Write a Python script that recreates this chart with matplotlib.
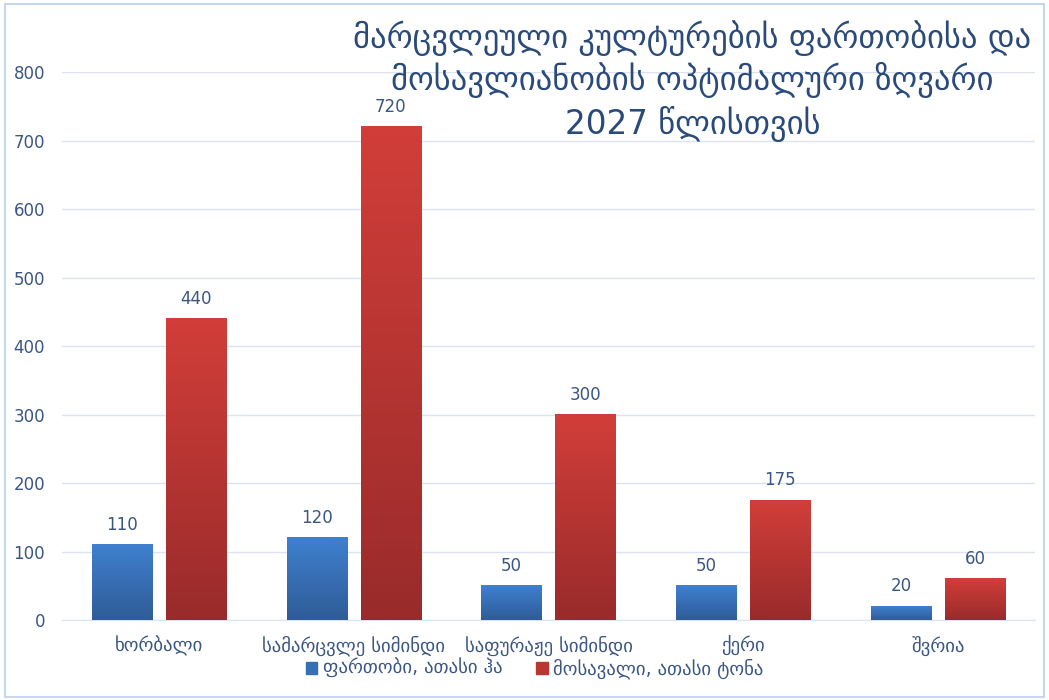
import matplotlib.pyplot as plt
import numpy as np
from matplotlib.colors import LinearSegmentedColormap
from matplotlib.patches import Rectangle, Patch

categories = ["ხორბალი", "სამარცვლე სიმინდი", "საფურაჟე სიმინდი", "ქერი", "შვრია"]
area = [110, 120, 50, 50, 20]
harvest = [440, 720, 300, 175, 60]
series_names = ["ფართობი, ათასი ჰა", "მოსავალი, ათასი ტონა"]
title_lines = ["მარცვლეული კულტურების ფართობისა და",
               "მოსავლიანობის ოპტიმალური ზღვარი",
               "2027 წლისთვის"]

TXT = '#3A5683'
TITLE_C = '#2A4A7A'
blue_cm = LinearSegmentedColormap.from_list('b', ['#2F5C97', '#3F80CF'])
red_cm = LinearSegmentedColormap.from_list('r', ['#992B2B', '#D23E39'])


def gradient_bars(ax, xs, vals, width, cmap):
    bars = ax.bar(xs, vals, width=width, color=cmap(0.6), zorder=2)
    grad = np.linspace(0, 1, 256).reshape(-1, 1)
    for b in bars:
        x0, w, h = b.get_x(), b.get_width(), b.get_height()
        ax.imshow(grad, extent=[x0, x0 + w, 0, h], origin='lower', cmap=cmap,
                  aspect='auto', zorder=3)
    return bars


def main():
    plt.rcParams['font.family'] = ['DejaVu Sans']
    fig = plt.figure(figsize=(10.49, 7.0), dpi=100)
    ax = fig.add_axes([0.059, 0.114, 0.928, 0.783])

    x = np.arange(len(categories))
    w = 0.31
    off = 0.19
    gradient_bars(ax, x - off, area, w, blue_cm)
    gradient_bars(ax, x + off, harvest, w, red_cm)

    for xs, vals in ((x - off, area), (x + off, harvest)):
        for xi, v in zip(xs, vals):
            ax.annotate(str(v), (xi, v), xytext=(0, 8), textcoords='offset points',
                        ha='center', va='bottom', fontsize=12, color=TXT, zorder=5)

    ax.set_xlim(-0.5, len(categories) - 0.5)
    ax.set_ylim(0, 800)
    ax.set_yticks(range(0, 801, 100))
    ax.set_xticks(x)
    ax.set_xticklabels(categories, fontsize=13.5, color=TXT)
    ax.tick_params(axis='y', labelsize=12, labelcolor=TXT, length=0, pad=12)
    ax.tick_params(axis='x', length=0, pad=11)
    ax.grid(True, axis='y', color='#D9E3F1', linewidth=1, zorder=0)
    ax.set_axisbelow(True)
    for s in ax.spines.values():
        s.set_visible(False)
    ax.spines['bottom'].set_visible(True)
    ax.spines['bottom'].set_color('#D9E3F1')

    handles = [Patch(color='#3570B5'), Patch(color='#BB3533')]
    fig.legend(handles, series_names, loc='center', bbox_to_anchor=(0.51, 0.045),
               ncol=2, frameon=False, fontsize=13.5, labelcolor=TXT,
               handlelength=0.6, handleheight=0.6, handletextpad=0.3, columnspacing=1.8)

    # title as three separate lines so the 720 label can sit just below line 2
    for line, py in zip(title_lines, (38, 80, 124)):
        fig.text(0.66, 1 - py / 700, line, ha='center', va='center', fontsize=23.5,
                 color=TITLE_C)

    fig.patches.append(Rectangle((0.005, 0.004), 0.99, 0.99, transform=fig.transFigure,
                                 fill=False, edgecolor='#C5D6EE', linewidth=1.5))

    fig.savefig('out.png', dpi=100)


if __name__ == '__main__':
    main()
